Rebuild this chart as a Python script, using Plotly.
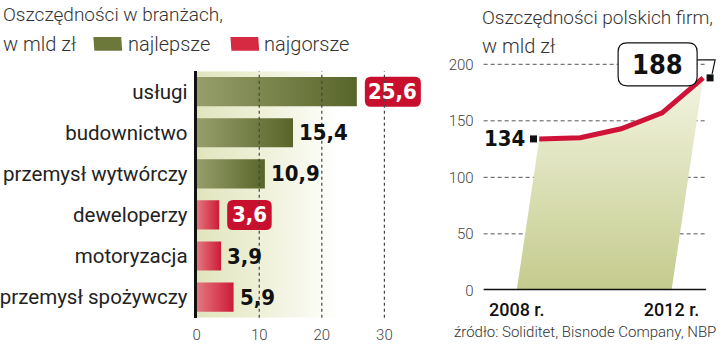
import plotly.graph_objects as go

# ---------------- data ----------------
categories = ["usługi", "budownictwo", "przemysł wytwórczy",
              "deweloperzy", "motoryzacja", "przemysł spożywczy"]
savings = [25.6, 15.4, 10.9, 3.6, 3.9, 5.9]
groups = ["najlepsze", "najlepsze", "najlepsze", "najgorsze", "najgorsze", "najgorsze"]
left_ticks = [0, 10, 20, 30]

years = [2008, 2009, 2010, 2011, 2012]
total = [134, 135, 143, 157, 188]
right_ticks = [0, 50, 100, 150, 200]
year_labels = ["2008 r.", "2012 r."]

source = "źródło: Soliditet, Bisnode Company, NBP"

# ---------------- style ----------------
W, H = 720, 351
def px(x): return x / W
def py(y): return 1 - y / H

LIGHT = "Roboto"
NUM = "DejaVu Sans Condensed, DejaVu Sans"
GREEN = ("#979e6a", "#58652a")
RED = ("#e4797f", "#cd1a38")
BOX_RED = "#c8102e"
HALF = 0.355
XMAX_L = 36.5
SKEW = 0.0041  # oblique shift (years per unit) of the area base
X2_FRAC = (706 - 482) / (716 - 482)  # visible part of the right panel grid


def rounded(x0, x1, y0, y1, r):
    return (f"M {x0 + r},{y0} L {x1 - r},{y0} Q {x1},{y0} {x1},{y0 + r} "
            f"L {x1},{y1 - r} Q {x1},{y1} {x1 - r},{y1} L {x0 + r},{y1} "
            f"Q {x0},{y1} {x0},{y1 - r} L {x0},{y0 + r} Q {x0},{y0} {x0 + r},{y0} Z")


fig = go.Figure()

# background gradient of the left panel
fig.add_trace(go.Scatter(
    x=[0, XMAX_L, XMAX_L, 0, 0], y=[-0.5, -0.5, len(categories) - 0.5, len(categories) - 0.5, -0.5],
    fill="toself", mode="lines", line=dict(width=0),
    fillgradient=dict(type="horizontal",
                      colorscale=[[0, "#e1e5bd"], [0.28, "#eef0d7"], [0.63, "#ffffff"], [1, "#ffffff"]]),
    hoverinfo="skip", showlegend=False, xaxis="x", yaxis="y"))

shapes = []
annotations = []

# bars
best_idx = max([i for i, g in enumerate(groups) if g == "najlepsze"], key=lambda i: savings[i])
worst_idx = min([i for i, g in enumerate(groups) if g == "najgorsze"], key=lambda i: savings[i])
for i, (c, v, g) in enumerate(zip(categories, savings, groups)):
    cols = GREEN if g == "najlepsze" else RED
    fig.add_trace(go.Scatter(
        x=[0, v, v, 0, 0], y=[i - HALF, i - HALF, i + HALF, i + HALF, i - HALF],
        fill="toself", mode="lines", line=dict(width=0),
        fillgradient=dict(type="horizontal", colorscale=[[0, cols[0]], [1, cols[1]]]),
        name=c, hovertemplate=f"{c}: {v}<extra></extra>", showlegend=False,
        xaxis="x", yaxis="y"))
    txt = f"{v:.1f}".replace(".", ",")
    if i in (best_idx, worst_idx):
        w = 11.5 * len(txt) + 10
        shapes.append(dict(type="path", xref="x", yref="y", xsizemode="pixel", ysizemode="pixel",
                           xanchor=v, yanchor=i, path=rounded(8, 8 + w, -15, 15, 6),
                           fillcolor=BOX_RED, line=dict(width=0), layer="above"))
        annotations.append(dict(
            x=v, y=i, xref="x", yref="y", text=f"<b>{txt}</b>", showarrow=False,
            xanchor="center", yanchor="middle", xshift=8 + w / 2,
            font=dict(family=NUM, size=22, color="white")))
    else:
        annotations.append(dict(
            x=v, y=i, xref="x", yref="y", text=f"<b>{txt}</b>", showarrow=False,
            xanchor="left", yanchor="middle", xshift=4,
            font=dict(family=NUM, size=22, color="#111")))

# right panel: oblique area, line, markers
area_x = years + [years[-1] - SKEW * total[-1], years[0] - SKEW * total[0], years[0]]
area_y = total + [0, 0, total[0]]
fig.add_trace(go.Scatter(
    x=area_x, y=area_y, fill="toself", mode="lines", line=dict(width=0),
    fillgradient=dict(type="vertical", colorscale=[[0, "#c4cb8d"], [1, "#f3f4e0"]]),
    hoverinfo="skip", showlegend=False, xaxis="x2", yaxis="y2"))
fig.add_trace(go.Scatter(
    x=years, y=total, mode="lines", line=dict(color="#cf1238", width=5),
    name="Oszczędności", showlegend=False, xaxis="x2", yaxis="y2"))
fig.add_trace(go.Scatter(
    x=[years[0] - 0.14, years[-1] + 0.17], y=[total[0], total[-1]], mode="markers",
    marker=dict(symbol="square", size=7, color="#111"), cliponaxis=False,
    hoverinfo="skip", showlegend=False, xaxis="x2", yaxis="y2"))

annotations.append(dict(
    x=years[0], y=total[0], xref="x2", yref="y2", text=f"<b>{total[0]}</b>",
    showarrow=False, xanchor="right", yanchor="middle", xshift=-12,
    font=dict(family=NUM, size=22, color="#111")))
# last value in rounded box with elbow connector
shapes.append(dict(type="path", xref="x2", yref="y2", xsizemode="pixel", ysizemode="pixel",
                   xanchor=years[-1], yanchor=total[-1], path=rounded(-85, -6, -8, 35, 9),
                   fillcolor="white", line=dict(color="#111", width=1.2), layer="above"))
shapes.append(dict(type="path", xref="x2", yref="y2", xsizemode="pixel", ysizemode="pixel",
                   xanchor=years[-1], yanchor=total[-1],
                   path="M -6,18 L 12,18 L 9,4", line=dict(color="#111", width=1.2), layer="above"))
annotations.append(dict(
    x=years[-1], y=total[-1], xref="x2", yref="y2", text=f"<b>{total[-1]}</b>",
    showarrow=False, xanchor="center", yanchor="middle", xshift=-45.5, yshift=13.5,
    font=dict(family=NUM, size=27, color="#111")))

# gridlines on top of fills
for t in left_ticks[1:]:
    shapes.append(dict(type="line", xref="x", yref="y domain", x0=t, x1=t, y0=0, y1=1,
                       line=dict(color="#444", width=1.2, dash="3px,3px"), layer="above"))
for t in right_ticks[1:]:
    shapes.append(dict(type="line", xref="x2 domain", yref="y2", x0=0, x1=X2_FRAC, y0=t, y1=t,
                       line=dict(color="#555", width=1, dash="4px,3px"), layer="below"))
shapes.append(dict(type="line", xref="x2 domain", yref="y2", x0=0, x1=X2_FRAC, y0=0, y1=0,
                   line=dict(color="#111", width=3), layer="above"))
# legend swatches
shapes.append(dict(type="path", xref="paper", yref="paper",
                   path=f"M {px(90)},{py(52)} L {px(118)},{py(52)} L {px(117)},{py(38)} L {px(89)},{py(38)} Z",
                   fillcolor="#6b7839", line=dict(width=0)))
shapes.append(dict(type="path", xref="paper", yref="paper",
                   path=f"M {px(228)},{py(52)} L {px(256)},{py(52)} L {px(255)},{py(38)} L {px(227)},{py(38)} Z",
                   fillcolor="#d62a42", line=dict(width=0)))


def label(x, y, s, size=20, anchor="left", color="#333", weight=300):
    annotations.append(dict(x=px(x), y=py(y), xref="paper", yref="paper", text=s, showarrow=False,
                            xanchor=anchor, yanchor="middle",
                            font=dict(family=LIGHT, size=size, color=color, weight=weight)))


label(-4, 15, "Oszczędności w branżach,", size=19)
label(-4, 45, "w mld zł")
label(122, 45, "najlepsze")
label(259, 45, "najgorsze")
label(478, 18, "Oszczędności polskich firm,", size=19)
label(478, 47, "w mld zł")
label(718, 341, source, size=15, anchor="right")

fig.update_layout(
    width=W, height=H, margin=dict(l=0, r=0, t=0, b=0),
    paper_bgcolor="white", plot_bgcolor="rgba(0,0,0,0)",
    showlegend=False, annotations=annotations, shapes=shapes,
    xaxis=dict(domain=[px(193), px(423)], range=[0, XMAX_L], showgrid=False, zeroline=False,
               tickvals=left_ticks, ticks="", ticklabelstandoff=6,
               tickfont=dict(family=LIGHT, size=15, color="#444", weight=300), anchor="y"),
    yaxis=dict(domain=[py(326), py(73)], range=[len(categories) - 0.5, -0.5], showgrid=False,
               zeroline=False, tickvals=list(range(len(categories))), ticktext=categories,
               ticks="", ticklabelstandoff=2, showline=True, linecolor="#111", linewidth=3,
               tickfont=dict(family=LIGHT, size=20.5, color="#222"), anchor="x"),
    xaxis2=dict(domain=[px(482), px(716)], range=[2006.643, 2012 + 13 / 41.25], showgrid=False,
                zeroline=False,
                tickvals=[years[0] - SKEW * total[0], years[-1] - SKEW * total[-1]],
                ticktext=year_labels, ticks="", ticklabelstandoff=7, showline=False,
                tickfont=dict(family=LIGHT, size=18, color="#111", weight=500), anchor="y2"),
    yaxis2=dict(domain=[py(298), py(40)], range=[0, (298 - 40) / 1.16], showgrid=False, zeroline=False,
                tickvals=right_ticks, ticks="", ticklabelstandoff=9,
                tickfont=dict(family=LIGHT, size=15, color="#444", weight=300), anchor="x2"),
)

fig.write_html("out.html")
